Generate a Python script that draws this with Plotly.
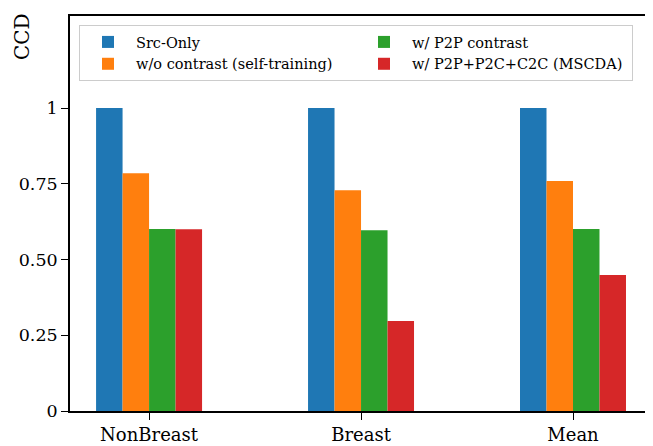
import plotly.graph_objects as go

categories = ["NonBreast", "Breast", "Mean"]
series_names = ["Src-Only", "w/o contrast (self-training)", "w/ P2P contrast", "w/ P2P+P2C+C2C (MSCDA)"]
src_only = [1.0, 1.0, 1.0]
wo_contrast = [0.785, 0.729, 0.759]
p2p = [0.601, 0.597, 0.601]
mscda = [0.600, 0.297, 0.449]
colors = ["#1f77b4", "#ff7f0e", "#2ca02c", "#d62728"]
legend_ranks = [1, 3, 2, 4]
ytick_vals = [0, 0.25, 0.5, 0.75, 1]
ytick_text = ["0", "0.25", "0.50", "0.75", "1"]

values = [src_only, wo_contrast, p2p, mscda]
FONT = "DejaVu Serif, serif"

# the page body adds an 8px offset, so the figure is 8px smaller on each axis
W, H = 645, 438
L, T = 62, 8
R, B = 2, 35
pw, ph = W - L - R, H - T - B

fig = go.Figure()
x_idx = list(range(len(categories)))
for name, vals, col, rk in zip(series_names, values, colors, legend_ranks):
    fig.add_trace(go.Bar(x=x_idx, y=vals, name=name, marker=dict(color=col, line=dict(width=0)),
                         legendrank=rk))

fig.update_layout(
    width=W, height=H,
    margin=dict(l=L, r=R, t=T, b=B, autoexpand=False),
    paper_bgcolor="white", plot_bgcolor="white",
    barmode="group", bargap=0.5, bargroupgap=0,
    font=dict(family=FONT, color="black", size=18),
    showlegend=True,
    legend=dict(
        orientation="h", x=(71 - L) / pw, y=1 - (17 - T) / ph, xanchor="left", yanchor="top",
        entrywidth=215, entrywidthmode="pixels",
        font=dict(family=FONT, size=14.5, color="black"),
        bgcolor="rgba(255,255,255,0.8)", bordercolor="#cccccc", borderwidth=1,
        itemwidth=46, tracegroupgap=0,
    ),
)
fig.update_xaxes(
    range=[-0.373, 2.368], tickvals=x_idx, ticktext=categories,
    showline=True, linecolor="black", linewidth=1.6, mirror=True,
    ticks="outside", ticklen=7, tickwidth=1.4, tickcolor="black",
    showgrid=False, zeroline=False, tickfont=dict(family=FONT, size=18), automargin=False,
)
fig.update_yaxes(
    range=[0, 1.304], tickvals=ytick_vals, ticktext=ytick_text,
    showline=True, linecolor="black", linewidth=1.6, mirror=True,
    ticks="outside", ticklen=7, tickwidth=1.4, tickcolor="black",
    showgrid=False, zeroline=False, tickfont=dict(family=FONT, size=17.5), automargin=False,
)
fig.add_annotation(text="CCD", xref="paper", yref="paper",
                   x=(14 - L) / pw, y=1 - (28 - T) / ph, xanchor="center", yanchor="middle",
                   textangle=-90, showarrow=False, font=dict(family=FONT, size=20))

fig.write_html("out.html")
